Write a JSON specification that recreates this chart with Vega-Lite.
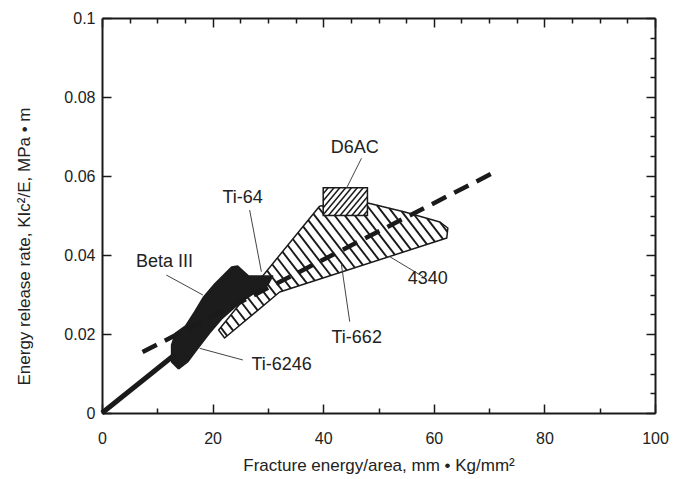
{
  "$schema": "https://vega.github.io/schema/vega-lite/v6.json",
  "width": 553,
  "height": 395,
  "autosize": "none",
  "padding": {"left": 102, "top": 18, "right": 25, "bottom": 66},
  "background": "white",
  "config": {"view": {"stroke": null}, "font": "Liberation Sans"},
  "datasets": {
    "poly": [
      {"s": "steel", "o": 1, "x": 39.37, "y": 0.05241},
      {"s": "steel", "o": 2, "x": 48.06, "y": 0.05316},
      {"s": "steel", "o": 3, "x": 54.75, "y": 0.05089},
      {"s": "steel", "o": 4, "x": 61.09, "y": 0.04835},
      {"s": "steel", "o": 5, "x": 62.54, "y": 0.04684},
      {"s": "steel", "o": 6, "x": 62.35, "y": 0.0443},
      {"s": "steel", "o": 7, "x": 32.13, "y": 0.03063},
      {"s": "steel", "o": 8, "x": 22.17, "y": 0.01899},
      {"s": "steel", "o": 9, "x": 21.09, "y": 0.02101},
      {"s": "steel", "o": 10, "x": 39.37, "y": 0.05241},
      {"s": "ti", "o": 1, "x": 13.85, "y": 0.01114},
      {"s": "ti", "o": 2, "x": 15.48, "y": 0.01291},
      {"s": "ti", "o": 3, "x": 17.1, "y": 0.01595},
      {"s": "ti", "o": 4, "x": 19.46, "y": 0.02025},
      {"s": "ti", "o": 5, "x": 21.63, "y": 0.0238},
      {"s": "ti", "o": 6, "x": 24.89, "y": 0.02785},
      {"s": "ti", "o": 7, "x": 27.6, "y": 0.03038},
      {"s": "ti", "o": 8, "x": 29.96, "y": 0.0324},
      {"s": "ti", "o": 9, "x": 30.86, "y": 0.03468},
      {"s": "ti", "o": 10, "x": 28.87, "y": 0.03468},
      {"s": "ti", "o": 11, "x": 26.52, "y": 0.03468},
      {"s": "ti", "o": 12, "x": 24.53, "y": 0.03722},
      {"s": "ti", "o": 13, "x": 23.44, "y": 0.03696},
      {"s": "ti", "o": 14, "x": 20.36, "y": 0.03266},
      {"s": "ti", "o": 15, "x": 18.37, "y": 0.02937},
      {"s": "ti", "o": 16, "x": 16.74, "y": 0.02557},
      {"s": "ti", "o": 17, "x": 15.11, "y": 0.02203},
      {"s": "ti", "o": 18, "x": 13.3, "y": 0.02025},
      {"s": "ti", "o": 19, "x": 12.58, "y": 0.01722},
      {"s": "ti", "o": 20, "x": 12.58, "y": 0.01291},
      {"s": "ti", "o": 21, "x": 13.85, "y": 0.01114}
    ],
    "box": [{"x": 40, "x2": 48, "y": 0.05, "y2": 0.057}],
    "hatch": [
      {"g": "steel", "x": 21.47, "y": 0.02167, "x2": 22.64, "y2": 0.01954},
      {"g": "steel", "x": 22.39, "y": 0.02327, "x2": 23.75, "y2": 0.02081},
      {"g": "steel", "x": 23.33, "y": 0.02486, "x2": 24.83, "y2": 0.0221},
      {"g": "steel", "x": 24.25, "y": 0.02646, "x2": 25.94, "y2": 0.02339},
      {"g": "steel", "x": 25.2, "y": 0.02805, "x2": 27.04, "y2": 0.02468},
      {"g": "steel", "x": 26.12, "y": 0.02965, "x2": 28.15, "y2": 0.02597},
      {"g": "steel", "x": 27.06, "y": 0.03127, "x2": 29.25, "y2": 0.02727},
      {"g": "steel", "x": 27.98, "y": 0.03286, "x2": 30.35, "y2": 0.02856},
      {"g": "steel", "x": 28.91, "y": 0.03446, "x2": 31.46, "y2": 0.02985},
      {"g": "steel", "x": 29.85, "y": 0.03605, "x2": 32.69, "y2": 0.03089},
      {"g": "steel", "x": 30.77, "y": 0.03765, "x2": 34.14, "y2": 0.03154},
      {"g": "steel", "x": 31.71, "y": 0.03924, "x2": 35.58, "y2": 0.0322},
      {"g": "steel", "x": 32.63, "y": 0.04084, "x2": 37.03, "y2": 0.03286},
      {"g": "steel", "x": 33.58, "y": 0.04246, "x2": 38.48, "y2": 0.03352},
      {"g": "steel", "x": 34.5, "y": 0.04405, "x2": 39.93, "y2": 0.03415},
      {"g": "steel", "x": 35.42, "y": 0.04565, "x2": 41.38, "y2": 0.03481},
      {"g": "steel", "x": 36.36, "y": 0.04724, "x2": 42.82, "y2": 0.03547},
      {"g": "steel", "x": 37.29, "y": 0.04884, "x2": 44.27, "y2": 0.03613},
      {"g": "steel", "x": 38.23, "y": 0.05043, "x2": 45.74, "y2": 0.03678},
      {"g": "steel", "x": 39.15, "y": 0.05203, "x2": 47.19, "y2": 0.03744},
      {"g": "steel", "x": 40.69, "y": 0.05253, "x2": 48.63, "y2": 0.0381},
      {"g": "steel", "x": 42.43, "y": 0.05268, "x2": 50.08, "y2": 0.03876},
      {"g": "steel", "x": 44.15, "y": 0.05284, "x2": 51.53, "y2": 0.03942},
      {"g": "steel", "x": 45.88, "y": 0.05296, "x2": 52.98, "y2": 0.04005},
      {"g": "steel", "x": 47.6, "y": 0.05311, "x2": 54.43, "y2": 0.04071},
      {"g": "steel", "x": 49.7, "y": 0.05261, "x2": 55.87, "y2": 0.04137},
      {"g": "steel", "x": 51.93, "y": 0.05185, "x2": 57.32, "y2": 0.04203},
      {"g": "steel", "x": 54.16, "y": 0.05109, "x2": 58.77, "y2": 0.04268},
      {"g": "steel", "x": 56.45, "y": 0.0502, "x2": 60.22, "y2": 0.04334},
      {"g": "steel", "x": 58.77, "y": 0.04929, "x2": 61.67, "y2": 0.044},
      {"g": "steel", "x": 61.09, "y": 0.04835, "x2": 62.46, "y2": 0.04585},
      {"g": "d6ac", "x": 40.0, "y": 0.05549, "x2": 40.91, "y2": 0.057},
      {"g": "d6ac", "x": 40.0, "y": 0.05372, "x2": 41.96, "y2": 0.057},
      {"g": "d6ac", "x": 40.0, "y": 0.05195, "x2": 43.0, "y2": 0.057},
      {"g": "d6ac", "x": 40.0, "y": 0.05018, "x2": 44.07, "y2": 0.057},
      {"g": "d6ac", "x": 40.95, "y": 0.05, "x2": 45.12, "y2": 0.057},
      {"g": "d6ac", "x": 42.01, "y": 0.05, "x2": 46.17, "y2": 0.057},
      {"g": "d6ac", "x": 43.06, "y": 0.05, "x2": 47.24, "y2": 0.057},
      {"g": "d6ac", "x": 44.12, "y": 0.05, "x2": 48.0, "y2": 0.05652},
      {"g": "d6ac", "x": 45.18, "y": 0.05, "x2": 48.0, "y2": 0.05474},
      {"g": "d6ac", "x": 46.23, "y": 0.05, "x2": 48.0, "y2": 0.05297},
      {"g": "d6ac", "x": 47.29, "y": 0.05, "x2": 48.0, "y2": 0.0512}
    ],
    "lines": [
      {"k": "dashed", "x": 7.33, "y": 0.01544, "x2": 71.04, "y2": 0.06101},
      {"k": "solid", "x": 0, "y": 0, "x2": 13.2, "y2": 0.0148}
    ],
    "leaders": [
      {"t": "D6AC", "x": 46.92, "y": 0.06448, "x2": 44.2, "y2": 0.05689},
      {"t": "Ti-64", "x": 26.7, "y": 0.05139, "x2": 28.82, "y2": 0.03577},
      {"t": "Beta III", "x": 11.62, "y": 0.03494, "x2": 18.24, "y2": 0.02987},
      {"t": "Ti-6246", "x": 17.65, "y": 0.01638, "x2": 25.48, "y2": 0.01342},
      {"t": "Ti-662", "x": 43.3, "y": 0.03747, "x2": 44.8, "y2": 0.02311},
      {"t": "4340", "x": 52.04, "y": 0.03957, "x2": 58.06, "y2": 0.03451}
    ],
    "labels": [
      {"t": "D6AC", "x": 45.7, "y": 0.0671},
      {"t": "Ti-64", "x": 25.43, "y": 0.0544},
      {"t": "Beta III", "x": 11.31, "y": 0.0382},
      {"t": "Ti-6246", "x": 32.49, "y": 0.0121},
      {"t": "Ti-662", "x": 46.06, "y": 0.019},
      {"t": "4340", "x": 58.92, "y": 0.0339}
    ]
  },
  "layer": [
    {
      "layer": [
        {
          "data": {"name": "poly"},
          "transform": [{"filter": "datum.s === 'steel'"}],
          "mark": {"type": "line", "fill": "white", "stroke": "#1a1a1a", "strokeWidth": 1.5, "strokeJoin": "round"},
          "encoding": {
            "x": {
              "field": "x", "type": "quantitative",
              "scale": {"domain": [0, 100], "nice": false},
              "axis": {
                "orient": "bottom",
                "title": "Fracture energy/area, mm • Kg/mm²",
                "titleFont": "Liberation Sans", "titleFontSize": 17, "titleFontWeight": "normal", "titleColor": "#222",
                "titleY": 44, "titleBaseline": "top",
                "values": [0,5,10,15,20,25,30,35,40,45,50,55,60,65,70,75,80,85,90,95,100],
                "labelExpr": "datum.value % 20 === 0 ? format(datum.value, 'd') : ''",
                "labelFlush": false, "labelOverlap": false,
                "labelFont": "Liberation Sans", "labelFontSize": 16, "labelColor": "#222",
                "labelPadding": 26,
                "tickSize": {"condition": {"test": "datum.value % 20 === 0", "value": -9}, "value": -5},
                "tickWidth": 1.5, "tickColor": "#1a1a1a",
                "domainWidth": 2, "domainColor": "#1a1a1a", "grid": false
              }
            },
            "y": {
              "field": "y", "type": "quantitative",
              "scale": {"domain": [0, 0.1], "nice": false},
              "axis": {
                "orient": "left",
                "title": "Energy release rate, KIc²/E, MPa • m",
                "titleFont": "Liberation Sans", "titleFontSize": 17, "titleFontWeight": "normal", "titleColor": "#222",
                "titleX": -86, "titleY": 228, "titleBaseline": "top", "titleAlign": "center", "titleAngle": -90,
                "values": [0,0.005,0.01,0.015,0.02,0.025,0.03,0.035,0.04,0.045,0.05,0.055,0.06,0.065,0.07,0.075,0.08,0.085,0.09,0.095,0.1],
                "labelExpr": "abs(datum.value*50 - round(datum.value*50)) < 0.001 ? format(datum.value, '~g') : ''",
                "labelFlush": false, "labelOverlap": false,
                "labelFont": "Liberation Sans", "labelFontSize": 16, "labelColor": "#222",
                "labelPadding": 16,
                "tickSize": {"condition": {"test": "abs(datum.value*50 - round(datum.value*50)) < 0.001", "value": -9}, "value": -5},
                "tickWidth": 1.5, "tickColor": "#1a1a1a",
                "domainWidth": 2, "domainColor": "#1a1a1a", "grid": false
              }
            },
            "order": {"field": "o", "type": "quantitative"}
          }
        },
        {
          "data": {"name": "hatch"},
          "transform": [{"filter": "datum.g === 'steel'"}],
          "mark": {"type": "rule", "stroke": "#1a1a1a", "strokeWidth": 1.9},
          "encoding": {
            "x": {"field": "x", "type": "quantitative"},
            "y": {"field": "y", "type": "quantitative"},
            "x2": {"field": "x2"},
            "y2": {"field": "y2"}
          }
        },
        {
          "data": {"name": "box"},
          "mark": {"type": "rect", "fill": "white", "stroke": "#1a1a1a", "strokeWidth": 1.5},
          "encoding": {
            "x": {"field": "x", "type": "quantitative"},
            "y": {"field": "y", "type": "quantitative"},
            "x2": {"field": "x2"},
            "y2": {"field": "y2"}
          }
        },
        {
          "data": {"name": "hatch"},
          "transform": [{"filter": "datum.g === 'd6ac'"}],
          "mark": {"type": "rule", "stroke": "#1a1a1a", "strokeWidth": 1.5},
          "encoding": {
            "x": {"field": "x", "type": "quantitative"},
            "y": {"field": "y", "type": "quantitative"},
            "x2": {"field": "x2"},
            "y2": {"field": "y2"}
          }
        },
        {
          "data": {"name": "poly"},
          "transform": [{"filter": "datum.s === 'ti'"}],
          "mark": {"type": "line", "fill": "#1c1c1c", "stroke": "#1c1c1c", "strokeWidth": 1.5, "strokeJoin": "round"},
          "encoding": {
            "x": {"field": "x", "type": "quantitative"},
            "y": {"field": "y", "type": "quantitative"},
            "order": {"field": "o", "type": "quantitative"}
          }
        },
        {
          "data": {"name": "leaders"},
          "mark": {"type": "rule", "stroke": "#444", "strokeWidth": 1},
          "encoding": {
            "x": {"field": "x", "type": "quantitative"},
            "y": {"field": "y", "type": "quantitative"},
            "x2": {"field": "x2"},
            "y2": {"field": "y2"}
          }
        },
        {
          "data": {"name": "lines"},
          "transform": [{"filter": "datum.k === 'dashed'"}],
          "mark": {"type": "rule", "stroke": "#1a1a1a", "strokeWidth": 4.5, "strokeDash": [16, 9]},
          "encoding": {
            "x": {"field": "x", "type": "quantitative"},
            "y": {"field": "y", "type": "quantitative"},
            "x2": {"field": "x2"},
            "y2": {"field": "y2"}
          }
        },
        {
          "data": {"name": "lines"},
          "transform": [{"filter": "datum.k === 'solid'"}],
          "mark": {"type": "rule", "stroke": "#1a1a1a", "strokeWidth": 5},
          "encoding": {
            "x": {"field": "x", "type": "quantitative"},
            "y": {"field": "y", "type": "quantitative"},
            "x2": {"field": "x2"},
            "y2": {"field": "y2"}
          }
        },
        {
          "data": {"name": "labels"},
          "mark": {"type": "text", "font": "Liberation Sans", "fontSize": 18, "fill": "#222", "align": "center", "baseline": "middle"},
          "encoding": {
            "x": {"field": "x", "type": "quantitative"},
            "y": {"field": "y", "type": "quantitative"},
            "text": {"field": "t"}
          }
        }
      ]
    },
    {
      "data": {"name": "box"},
      "mark": {"type": "point", "opacity": 0},
      "encoding": {
        "x": {
          "field": "x", "type": "quantitative",
          "scale": {"domain": [0, 100], "nice": false},
          "axis": {
            "orient": "top", "title": null, "labels": false,
            "values": [0,5,10,15,20,25,30,35,40,45,50,55,60,65,70,75,80,85,90,95,100],
            "tickSize": {"condition": {"test": "datum.value % 20 === 0", "value": -9}, "value": -5},
            "tickWidth": 1.5, "tickColor": "#1a1a1a",
            "domainWidth": 2, "domainColor": "#1a1a1a", "grid": false
          }
        },
        "y": {
          "field": "y", "type": "quantitative",
          "scale": {"domain": [0, 0.1], "nice": false},
          "axis": {
            "orient": "right", "title": null, "labels": false,
            "values": [0,0.005,0.01,0.015,0.02,0.025,0.03,0.035,0.04,0.045,0.05,0.055,0.06,0.065,0.07,0.075,0.08,0.085,0.09,0.095,0.1],
            "tickSize": {"condition": {"test": "abs(datum.value*50 - round(datum.value*50)) < 0.001", "value": -9}, "value": -5},
            "tickWidth": 1.5, "tickColor": "#1a1a1a",
            "domainWidth": 2, "domainColor": "#1a1a1a", "grid": false
          }
        }
      }
    }
  ],
  "resolve": {"axis": {"x": "independent", "y": "independent"}}
}
